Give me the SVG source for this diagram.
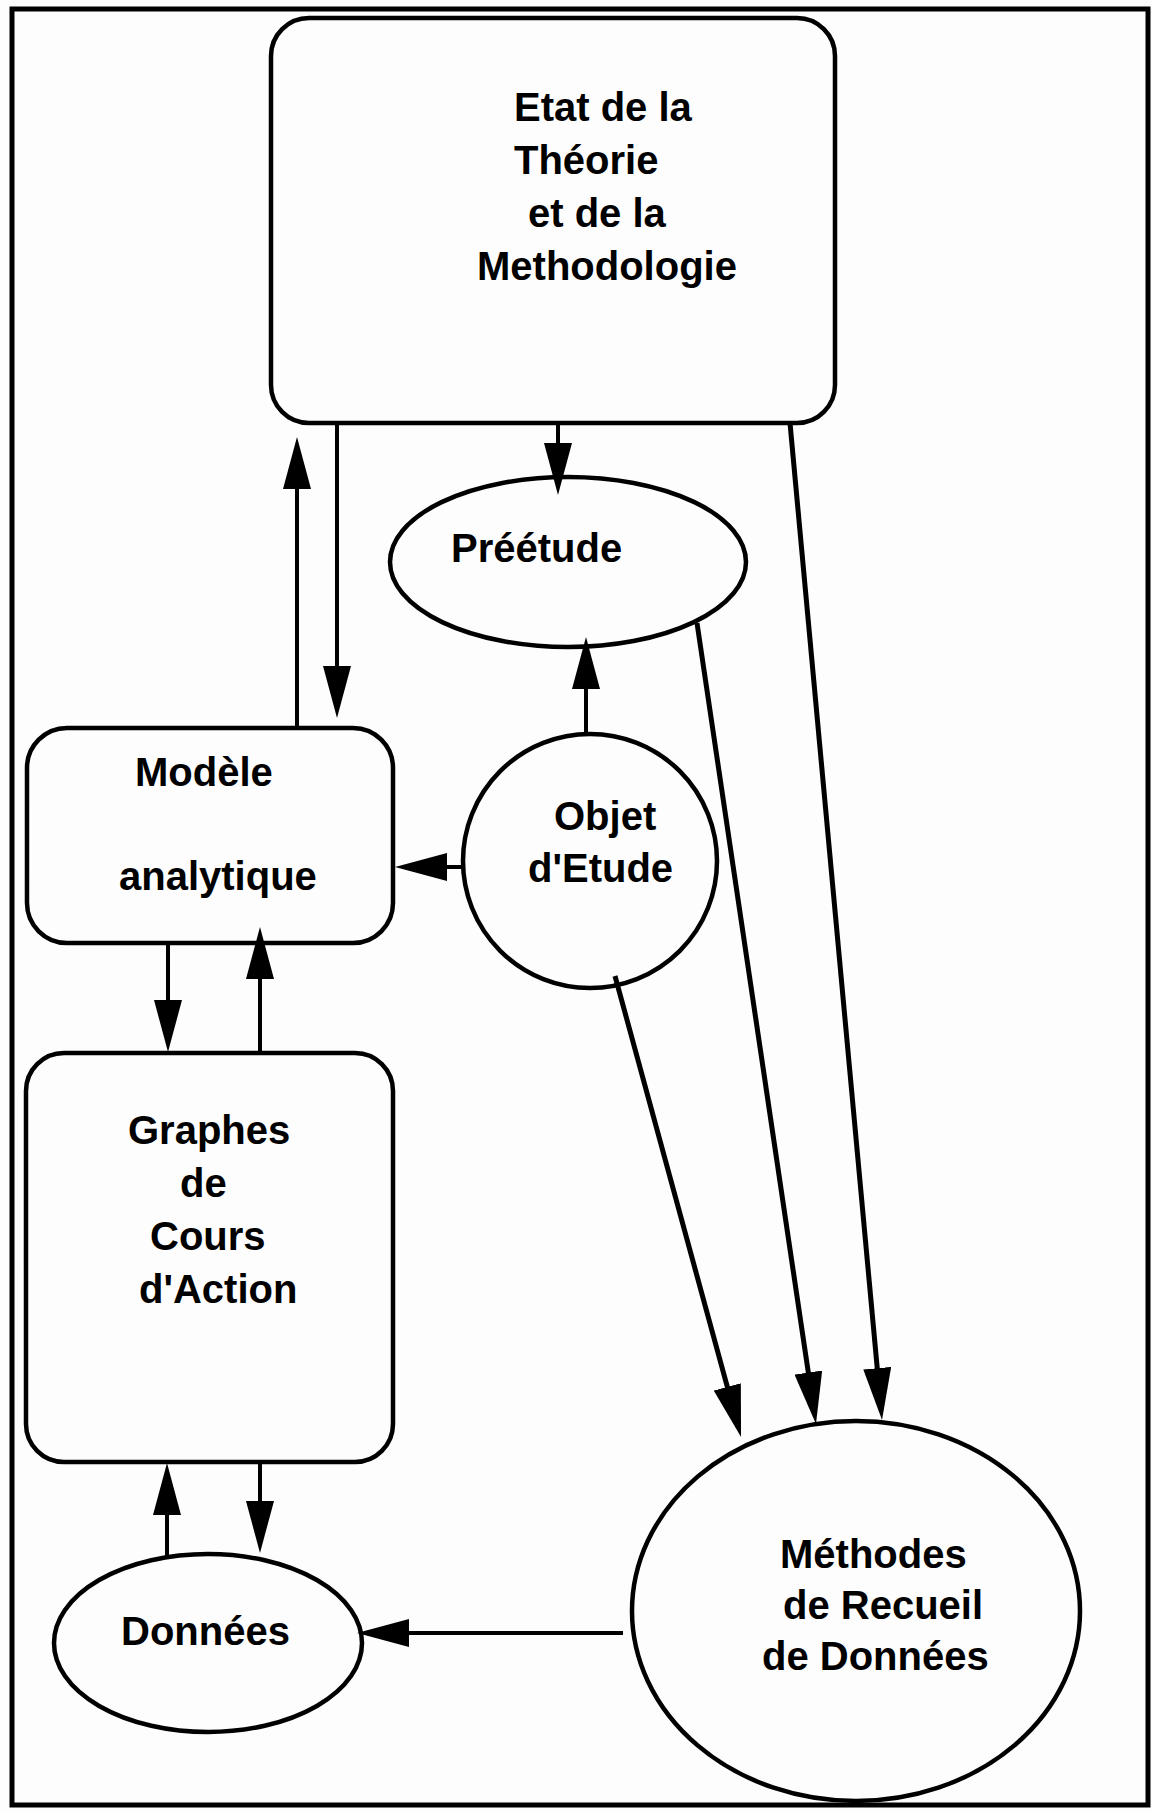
<svg xmlns="http://www.w3.org/2000/svg" width="1152" height="1811" viewBox="0 0 1152 1811">
  <style>
    .shape { fill: none; stroke: #000; stroke-width: 4.5; }
    .conn { fill: none; stroke: #000; stroke-width: 4; marker-end: url(#arrow); }
    .diag { stroke-width: 5; }
    text { font-family: "Liberation Sans", Arial, Helvetica, sans-serif; font-weight: bold; font-size: 40px; fill: #000; }
  </style>
  <defs>
    <marker id="arrow" viewBox="0 0 52 28" refX="42" refY="14" markerWidth="52" markerHeight="28" markerUnits="userSpaceOnUse" orient="auto">
      <path d="M0,0 L52,14 L0,28 Z" fill="#000"/>
    </marker>
  </defs>
  <rect x="0" y="0" width="1152" height="1811" fill="#fdfdfd"/>
  <rect id="frame" x="12" y="9" width="1136" height="1796" fill="none" stroke="#000" stroke-width="5"/>

  <g id="etat">
    <rect class="shape" x="271" y="18" width="564" height="405" rx="38" ry="38"/>
    <text x="514" y="121">Etat de la</text>
    <text x="514" y="174">Théorie</text>
    <text x="528" y="227">et de la</text>
    <text x="477" y="280">Methodologie</text>
  </g>

  <g id="preetude">
    <ellipse class="shape" cx="568" cy="562" rx="178" ry="85"/>
    <text x="451" y="562">Préétude</text>
  </g>

  <g id="modele">
    <rect class="shape" x="27" y="728" width="366" height="215" rx="40" ry="40"/>
    <text x="135" y="786">Modèle</text>
    <text x="119" y="890">analytique</text>
  </g>

  <g id="objet">
    <circle class="shape" cx="590" cy="861" r="127"/>
    <text x="554" y="830">Objet</text>
    <text x="528" y="882">d'Etude</text>
  </g>

  <g id="graphes">
    <rect class="shape" x="26" y="1053" width="367" height="409" rx="38" ry="38"/>
    <text x="128" y="1144">Graphes</text>
    <text x="180" y="1197">de</text>
    <text x="150" y="1250">Cours</text>
    <text x="139" y="1303">d'Action</text>
  </g>

  <g id="donnees">
    <ellipse class="shape" cx="208" cy="1643" rx="154" ry="89"/>
    <text x="121" y="1645">Données</text>
  </g>

  <g id="methodes">
    <ellipse class="shape" cx="856" cy="1611" rx="224" ry="190"/>
    <text x="780" y="1568">Méthodes</text>
    <text x="783" y="1619">de Recueil</text>
    <text x="762" y="1670">de Données</text>
  </g>

  <g id="connectors">
    <line class="conn" x1="337" y1="423" x2="337" y2="708"/>
    <line class="conn" x1="297" y1="727" x2="297" y2="447"/>
    <line class="conn" x1="558" y1="423" x2="558" y2="485"/>
    <line class="conn" x1="586" y1="734" x2="586" y2="647"/>
    <line class="conn" x1="463" y1="867" x2="405" y2="867"/>
    <line class="conn" x1="168" y1="943" x2="168" y2="1042"/>
    <line class="conn" x1="260" y1="1053" x2="260" y2="937"/>
    <line class="conn" x1="260" y1="1462" x2="260" y2="1543"/>
    <line class="conn" x1="167" y1="1556" x2="167" y2="1473"/>
    <line class="conn" x1="623" y1="1633" x2="367" y2="1633"/>
    <line class="conn diag" x1="615" y1="976" x2="738.4" y2="1427.4"/>
    <line class="conn diag" x1="697" y1="623" x2="814.5" y2="1414.1"/>
    <line class="conn diag" x1="790" y1="423" x2="881.1" y2="1410"/>
  </g>
</svg>
